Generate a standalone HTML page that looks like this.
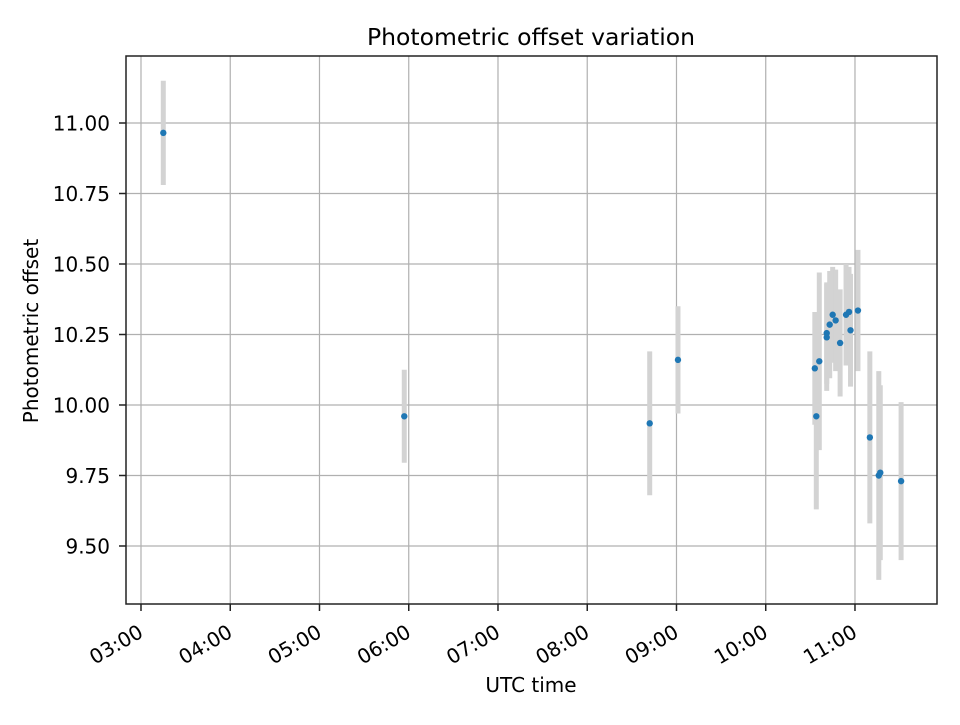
<!DOCTYPE html>
<html><head><meta charset="utf-8"><style>
body{margin:0;background:#fff;}
svg text{font-family:"DejaVu Sans","Liberation Sans",sans-serif;fill:#000;}
</style></head><body>
<svg id="chart" width="960" height="720" xmlns="http://www.w3.org/2000/svg">
<rect width="960" height="720" fill="#fff"/>
<g id="grid"></g>
<g id="bars"></g>
<g id="pts"></g>
<rect x="126" y="56" width="811" height="548" fill="none" stroke="#222" stroke-width="1.5"/>
<g id="axes"></g>
<text x="531" y="45" font-size="23.5" text-anchor="middle">Photometric offset variation</text>
<text x="531" y="692" font-size="20" text-anchor="middle">UTC time</text>
<text transform="translate(38,331) rotate(-90)" font-size="20" text-anchor="middle">Photometric offset</text>
</svg>
<script>
const times = ["03:15","05:57","08:42","09:01","10:33","10:34","10:36","10:41","10:41","10:43","10:45","10:47","10:50","10:54","10:56","10:57","11:02","11:10","11:16","11:17","11:31"];
const offsets = [10.965,9.96,9.935,10.16,10.13,9.96,10.155,10.24,10.255,10.285,10.32,10.30,10.22,10.32,10.33,10.265,10.335,9.885,9.75,9.76,9.73];
const errors = [0.185,0.165,0.255,0.19,0.2,0.33,0.315,0.19,0.18,0.19,0.17,0.18,0.19,0.18,0.16,0.2,0.215,0.305,0.37,0.31,0.28];
const xTickLabels = ["03:00","04:00","05:00","06:00","07:00","08:00","09:00","10:00","11:00"];
const yTickLabels = ["9.50","9.75","10.00","10.25","10.50","10.75","11.00"];

const L=126,R=937,T=56,B=604;
const xMin=2.832,xMax=11.919,yMin=9.2943,yMax=11.2376;
const NS="http://www.w3.org/2000/svg";
function xs(h){return L+(h-xMin)/(xMax-xMin)*(R-L);}
function ys(v){return B-(v-yMin)/(yMax-yMin)*(B-T);}
function hrs(s){const p=s.split(":");return +p[0]+ +p[1]/60;}
function mk(tag,attrs,parent){const e=document.createElementNS(NS,tag);for(const k in attrs)e.setAttribute(k,attrs[k]);document.getElementById(parent).appendChild(e);return e;}

xTickLabels.forEach(s=>{
  const x=xs(hrs(s));
  const g=mk("line",{x1:x,x2:x,y1:T,y2:B,stroke:"#b0b0b0","stroke-width":1.2},"grid");
  
  
  const t=mk("line",{x1:x,x2:x,y1:B,y2:B+7,stroke:"#222","stroke-width":1.5},"axes");
  
  
  const tx=mk("text",{transform:`translate(${x+3.5},${B+32}) rotate(-30)`,"font-size":"20","text-anchor":"end"},"axes");
  tx.textContent=s;
  
  
});
yTickLabels.forEach(s=>{
  const y=ys(+s);
  const g=mk("line",{x1:L,x2:R,y1:y,y2:y,stroke:"#b0b0b0","stroke-width":1.2},"grid");
  
  
  const t=mk("line",{x1:L-7,x2:L,y1:y,y2:y,stroke:"#222","stroke-width":1.5},"axes");
  
  
  const tx=mk("text",{x:L-16,y:y+7.5,"font-size":"20","text-anchor":"end"},"axes");
  tx.textContent=s;
  
  
});
times.forEach((s,i)=>{
  const x=xs(hrs(s));
  const b=mk("line",{x1:x,x2:x,y1:ys(offsets[i]+errors[i]),y2:ys(offsets[i]-errors[i]),stroke:"#d3d3d3","stroke-width":5},"bars");
  
  
});
times.forEach((s,i)=>{
  const c=mk("circle",{cx:xs(hrs(s)),cy:ys(offsets[i]),r:3.2,fill:"#1f77b4"},"pts");
  
  
});
</script>
</body></html>
